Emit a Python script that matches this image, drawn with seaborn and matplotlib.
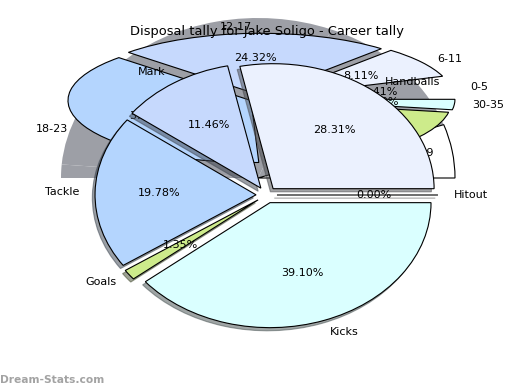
import matplotlib
matplotlib.use("Agg")
import matplotlib.pyplot as plt
import seaborn as sns

# ---- data ----
title = "Disposal tally for Jake Soligo - Career tally"
stat_labels = ["Hitout", "Handballs", "Mark", "Tackle", "Goals", "Kicks"]
stat_pct = [0.00, 28.31, 11.46, 19.78, 1.35, 39.10]
range_labels = ["0-5", "6-11", "12-17", "18-23", "24-29", "30-35"]
range_pct = [5.41, 8.11, 24.32, 37.84, 21.62, 2.70]
watermark = "Dream-Stats.com"

sns.set_style("white")
plt.rcParams["font.family"] = ["DejaVu Sans"]
plt.rcParams["text.color"] = "black"

palette = sns.color_palette(["#ffffff", "#ebf1fe", "#c6d9fd", "#b4d5fe", "#cdeb8b", "#daffff"])
backdrop = "#9d9fa6"
edge = dict(edgecolor="black", linewidth=0.8)
tprops = dict(fontsize=8, color="black")

W, H = 520, 390
fig = plt.figure(figsize=(W / 100, H / 100), dpi=100)
fig.patch.set_facecolor("white")


def box(cx, cy, sx, sy, xlim, ylim):
    left = cx + xlim[0] * sx
    width = (xlim[1] - xlim[0]) * sx
    top = cy - ylim[1] * sy
    height = (ylim[1] - ylim[0]) * sy
    return [left / W, (H - (top + height)) / H, width / W, height / H]


def finish(ax, xlim, ylim):
    ax.set_xlim(*xlim)
    ax.set_ylim(*ylim)
    ax.set_aspect("auto")
    ax.set_axis_off()


# backdrop layer (half disc + first range wedge)
lim_a = ((-1.3, 1.3), (0, 1.1))
axA = fig.add_axes(box(258, 178, 197, 160, *lim_a))
axA.set_zorder(1)
axA.pie([p / 200 for p in range_pct], normalize=False, colors=[backdrop] * len(range_pct),
        wedgeprops=dict(linewidth=0))
axA.pie([range_pct[0] / 100], normalize=False, colors=[palette[0]], wedgeprops=edge)
finish(axA, *lim_a)

# flattened ranges pie
lim_b = ((-1.25, 1.25), (-1.25, 1.25))
axB = fig.add_axes(box(261, 99, 183, 62, *lim_b))
axB.set_zorder(2)
wb, tb, pb = axB.pie(range_pct, labels=range_labels, colors=palette,
                     explode=[0.06] * len(range_pct), autopct="%.2f%%",
                     wedgeprops=edge, textprops=tprops)
wb[0].set_visible(False)
finish(axB, *lim_b)

# main stats pie
lim_m = ((-1.25, 1.25), (-1.25, 1.25))
ax = fig.add_axes(box(266.5, 195, 161, 125, *lim_m))
ax.set_zorder(3)
ax.pie(stat_pct, labels=stat_labels, colors=palette,
       explode=[0.065] * len(stat_pct), autopct="%.2f%%",
       shadow=dict(ox=-0.012, oy=-0.018),
       wedgeprops=edge, textprops=tprops)
finish(ax, *lim_m)
ax.set_title(title, fontsize=9.4, pad=3, color="black")

fig.text(0.0, (H - 380) / H, watermark, fontsize=7.7, fontweight="bold",
         color="#a3a3a3", ha="left", va="center")

fig.savefig("out.png", dpi=100, facecolor="white")
